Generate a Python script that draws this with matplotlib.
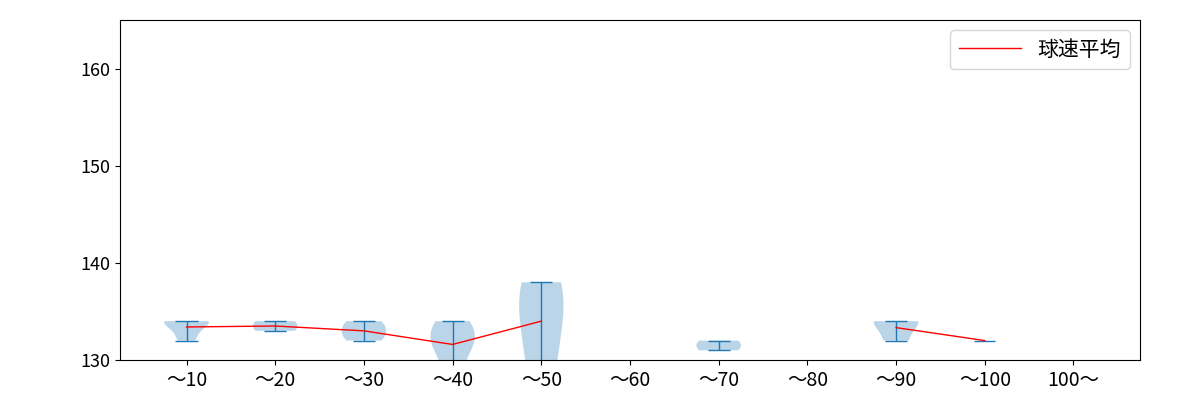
import matplotlib
matplotlib.use("Agg")
import matplotlib.pyplot as plt
import numpy as np

plt.rcParams['font.family'] = ['Noto Sans CJK JP', 'DejaVu Sans']

labels = ["～10", "～20", "～30", "～40", "～50", "～60", "～70", "～80", "～90", "～100", "100～"]
speeds = [
    [132, 133, 134, 134, 134],
    [133, 134],
    [132, 133, 134],
    [128, 131, 132, 133, 134],
    [129, 135, 138],
    [],
    [131, 132],
    [],
    [132, 134, 134],
    [132],
    [],
]

fig, ax = plt.subplots(figsize=(12, 4), dpi=100)
pos_multi = [i + 1 for i, s in enumerate(speeds) if len(s) >= 2]
data_multi = [speeds[i - 1] for i in pos_multi]
parts = ax.violinplot(data_multi, positions=pos_multi, showmeans=False, showextrema=True)
for k in ('cmins', 'cmaxes', 'cbars'):
    parts[k].set_linewidth(1)
for i, s in enumerate(speeds):
    if len(s) == 1:
        ax.hlines(s[0], i + 1 - 0.12, i + 1 + 0.12, color='C0', lw=1)

means = [np.mean(s) if len(s) else np.nan for s in speeds]
ax.plot(range(1, len(labels) + 1), means, color='red', lw=1, label='球速平均')
ax.set_xticks(range(1, len(labels) + 1))
ax.set_xticklabels(labels, fontsize=14)
ax.tick_params(axis='y', labelsize=13)
ax.set_ylim(130, 165)
ax.set_yticks([130, 140, 150, 160])
ax.set_xlim(0.25, 11.75)
ax.legend(loc='upper right', fontsize=15, handlelength=3)
fig.subplots_adjust(left=0.1, right=0.95, top=0.95, bottom=0.1)
fig.savefig("out.png")
